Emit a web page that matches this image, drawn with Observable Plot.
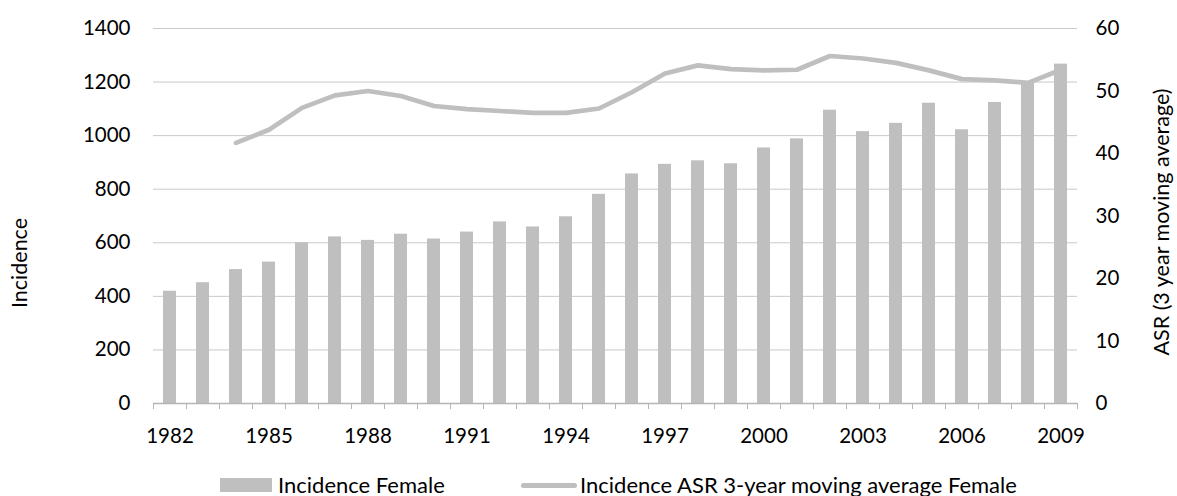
<!DOCTYPE html>
<html>
<head>
<meta charset="utf-8">
<script src="https://cdn.jsdelivr.net/npm/d3@7"></script>
<script src="https://cdn.jsdelivr.net/npm/@observablehq/plot@0.6"></script>
<style>
  body { margin: 0; background: #fff; font-family: Lato, "Open Sans", sans-serif; }
  #chart { position: relative; width: 1177px; }
  .legend { position: relative; height: 41px; font-size: 22px; color: #000; }
  .legend .item { position: absolute; top: 19px; height: 22px; line-height: 22px; display: flex; align-items: center; white-space: nowrap; }
  .legend .bar { width: 52px; height: 14px; background: #bfbfbf; margin-right: 6px; }
  .legend .line { width: 56px; height: 5px; border-radius: 3px; background: #bfbfbf; margin-right: 3px; }
</style>
</head>
<body>
<div id="chart"></div>
<div class="legend">
  <div class="item" style="left:220px"><span class="bar"></span>Incidence Female</div>
  <div class="item" style="left:521px"><span class="line"></span>Incidence ASR 3-year moving average Female</div>
</div>
<script>
const years = d3.range(1982, 2010);
const incidence = [419, 451, 500, 528, 600, 622, 609, 632, 614, 640, 678, 659, 697, 781,
  857, 893, 906, 895, 954, 988, 1095, 1015, 1046, 1121, 1022, 1124, 1202, 1267];
const asrYears = d3.range(1984, 2010);
const asr = [41.7, 43.8, 47.3, 49.3, 50.0, 49.2, 47.6, 47.1, 46.8, 46.5, 46.5, 47.2,
  49.8, 52.8, 54.1, 53.5, 53.3, 53.4, 55.6, 55.2, 54.5, 53.3, 51.9, 51.7, 51.3, 53.4];
const leftTicks = d3.range(0, 1401, 200);
const rightTicks = d3.range(0, 61, 10);
const labelYears = years.filter((y, i) => i % 3 === 0);

// right axis (0-60) is drawn on the left scale (0-1400)
const k = 1400 / 60;

const bars = years.map((year, i) => ({ year, value: incidence[i] }));
const line = asrYears.map((year, i) => ({ year, value: asr[i] * k }));

const width = 1177, marginLeft = 153, marginRight = 100;
const bw = (width - marginLeft - marginRight) / years.length;
const pxToY = 1400 / 375;

const chart = Plot.plot({
  width,
  height: 455,
  marginLeft,
  marginRight,
  marginTop: 28,
  marginBottom: 52,
  style: { fontFamily: "Lato, 'Open Sans', sans-serif", fontSize: "20.5px", color: "#000" },
  x: { type: "band", domain: years, paddingInner: 0.615, paddingOuter: 0.3075 },
  y: { domain: [0, 1400] },
  marks: [
    Plot.gridY(leftTicks, { stroke: "#c9c9c9", strokeOpacity: 1 }),
    Plot.barY(bars, { x: "year", y: "value", fill: "#bfbfbf" }),
    Plot.ruleY([0], { stroke: "#b5b5b5", strokeWidth: 1.3 }),
    Plot.ruleX(years, { x: (d) => d, dx: -bw / 2, y1: 0, y2: -6 * pxToY, stroke: "#b5b5b5" }),
    Plot.ruleX(years.slice(-1), { x: (d) => d, dx: bw / 2, y1: 0, y2: -6 * pxToY, stroke: "#b5b5b5" }),
    Plot.line(line, { x: "year", y: "value", stroke: "#bfbfbf", strokeWidth: 4.7, strokeLinecap: "round", strokeLinejoin: "round" }),
    Plot.axisX({ ticks: labelYears, tickFormat: (d) => String(d), tickSize: 0, tickPadding: 25, label: null }),
    Plot.axisY({ ticks: leftTicks, tickFormat: (d) => String(d), tickSize: 0, tickPadding: 23, label: null }),
    Plot.axisY({
      anchor: "right",
      ticks: rightTicks.map((v) => v * k),
      tickFormat: (d) => String(Math.round(d / k)),
      tickSize: 0,
      tickPadding: 18,
      label: null,
    }),
    Plot.text(["Incidence"], {
      frameAnchor: "left", text: (d) => d, rotate: -90, textAnchor: "middle",
      fontSize: 21.5, dx: -133, dy: 47,
    }),
    Plot.text(["ASR (3 year moving average)"], {
      frameAnchor: "right", text: (d) => d, rotate: -90, textAnchor: "middle",
      fontSize: 21.5, dx: 85, dy: 6,
    }),
  ],
});

document.getElementById("chart").appendChild(chart);
</script>
</body>
</html>
